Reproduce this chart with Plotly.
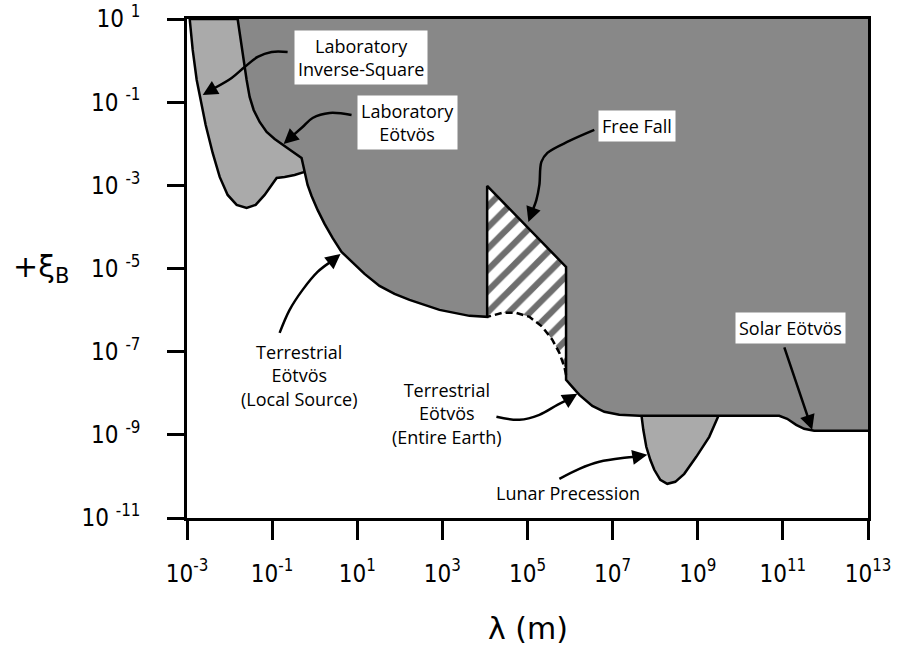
import numpy as np
import plotly.graph_objects as go

# Boundaries of the constrained regions, as log10(lambda / m) and log10(xi_B)

# Combined exclusion region (dark grey): lab/terrestrial Eotvos edge, free-fall notch,
# terrestrial (entire Earth), lunar and solar Eotvos floors
excl_loglam = [-1.810, -1.739, -1.669, -1.599, -1.528, -1.434, -1.293, -1.129, -0.941, -0.754,
               -0.542, -0.308, -0.261, -0.237, -0.167, -0.073, 0.068, 0.232, 0.420, 0.631,
               0.866, 1.171, 1.523, 1.876, 2.228, 2.580, 2.932, 3.284, 3.636, 4.052,
               4.052, 5.906, 5.906, 6.031, 6.218, 6.523, 6.805, 7.157, 7.627, 10.913,
               11.101, 11.312, 11.500, 11.735, 13.000]
excl_logxi = [1.000, 0.495, 0.014, -0.466, -0.875, -1.188, -1.476, -1.716, -1.885, -2.029,
              -2.173, -2.341, -2.534, -2.702, -2.990, -3.255, -3.591, -3.928, -4.264, -4.601,
              -4.841, -5.130, -5.418, -5.611, -5.755, -5.875, -5.995, -6.067, -6.139, -6.163,
              -3.014, -4.962, -7.678, -7.822, -8.038, -8.303, -8.447, -8.519, -8.543, -8.543,
              -8.615, -8.760, -8.856, -8.904, -8.904]

# Laboratory inverse-square region (light grey), outer edge from top to its minimum
isq_loglam = [-2.937, -2.866, -2.772, -2.678, -2.561, -2.397, -2.232, -2.045, -1.833, -1.599,
              -1.387, -1.176, -0.941, -0.894, -0.707, -0.472, -0.237]
isq_logxi = [1.000, 0.255, -0.466, -0.947, -1.548, -2.221, -2.798, -3.231, -3.471, -3.543,
             -3.471, -3.231, -2.870, -2.822, -2.798, -2.750, -2.678]

# Free-fall region (hatched): top edge and the dashed lower estimate
ff_top_loglam = [4.052, 5.906, 5.906]
ff_top_logxi = [-3.014, -4.962, -7.558]
ff_dash_loglam = [5.906, 5.866, 5.749, 5.585, 5.350, 5.045, 4.739, 4.411, 4.052]
ff_dash_logxi = [-7.558, -7.365, -7.029, -6.716, -6.404, -6.163, -6.067, -6.067, -6.163]

# Lunar precession region (light grey)
lun_loglam = [7.674, 7.721, 7.791, 7.885, 7.979, 8.120, 8.284, 8.472, 8.683, 8.965, 9.270, 9.505]
lun_logxi = [-8.500, -8.880, -9.288, -9.601, -9.841, -10.082, -10.178, -10.130, -9.938, -9.529,
             -9.048, -8.500]

x_tick_exp = [-3, -1, 1, 3, 5, 7, 9, 11, 13]
y_tick_exp = [1, -1, -3, -5, -7, -9, -11]

DARK = "#888888"
LIGHT = "#aaaaaa"
INK = "black"
LW = 2.5


def pw(v):
    return (10.0 ** np.asarray(v, dtype=float)).tolist()


fig = go.Figure()

# light grey inverse-square band, closed along the top of the axes
isq_x = isq_loglam + [isq_loglam[-1], isq_loglam[0]]
isq_y = isq_logxi + [1.0, 1.0]
fig.add_trace(go.Scatter(x=pw(isq_x), y=pw(isq_y), mode="lines", fill="toself",
                         fillcolor=LIGHT, line=dict(color=INK, width=LW), hoverinfo="skip"))

# lunar precession lobe
fig.add_trace(go.Scatter(x=pw(lun_loglam), y=pw(lun_logxi), mode="lines", fill="toself",
                         fillcolor=LIGHT, line=dict(color=INK, width=LW), hoverinfo="skip"))

# dark excluded region, closed via the upper-right corner
ex_x = excl_loglam + [13.0, excl_loglam[0]]
ex_y = excl_logxi + [1.0, 1.0]
fig.add_trace(go.Scatter(x=pw(ex_x), y=pw(ex_y), mode="lines", fill="toself",
                         fillcolor=DARK, line=dict(width=0), hoverinfo="skip"))

# hatched free-fall patch
ff_x = ff_top_loglam + ff_dash_loglam
ff_y = ff_top_logxi + ff_dash_logxi
fig.add_trace(go.Scatter(x=pw(ff_x), y=pw(ff_y), mode="lines", fill="toself",
                         fillcolor="white", line=dict(width=0),
                         fillpattern=dict(shape="/", fgcolor="#6e6e6e", bgcolor="white",
                                          size=15, solidity=0.42, fillmode="replace"),
                         hoverinfo="skip"))

# outline of the dark region
fig.add_trace(go.Scatter(x=pw(excl_loglam), y=pw(excl_logxi), mode="lines",
                         line=dict(color=INK, width=LW), hoverinfo="skip"))

# dashed lower edge of the free-fall patch
fig.add_trace(go.Scatter(x=pw(ff_dash_loglam), y=pw(ff_dash_logxi), mode="lines",
                         line=dict(color=INK, width=LW, dash="7px,4px"), hoverinfo="skip"))

# curved arrow shafts (log10 lambda, log10 xi)
shafts = [
    ([-0.636, -1.012, -1.340, -1.646, -1.951, -2.350], [0.207, 0.207, 0.087, -0.154, -0.418, -0.659]),
    ([0.866, 0.350, -0.049, -0.284, -0.495], [-1.308, -1.260, -1.380, -1.596, -1.788]),
    ([6.570, 5.984, 5.467, 5.326, 5.279, 5.209, 5.115],
     [-1.668, -1.933, -2.221, -2.438, -2.990, -3.351, -3.615]),
    ([-0.824, -0.589, -0.284, 0.068, 0.373], [-6.548, -5.995, -5.514, -5.082, -4.841]),
    ([4.270, 4.810, 5.279, 5.702, 5.937], [-8.567, -8.639, -8.519, -8.279, -8.159]),
    ([5.749, 6.218, 6.688, 7.275, 7.533], [-10.058, -9.817, -9.649, -9.553, -9.529]),
]
for sx, sy in shafts:
    fig.add_trace(go.Scatter(x=pw(sx), y=pw(sy), mode="lines", line=dict(color=INK, width=LW),
                             line_shape="spline", hoverinfo="skip"))

# arrow heads: tip position (log units) and pixel offset of the tail
heads = [
    (-2.631, -0.827, 12, -7),
    (-0.730, -2.005, 10, -9),
    (5.021, -3.880, 4, -11),
    (0.608, -4.649, -10, 8),
    (6.171, -8.014, -10, 6),
    (7.815, -9.481, -12, 2),
    (11.688, -8.880, -28, -83),
]
annotations = []
for hx, hy, ax, ay in heads:
    annotations.append(dict(x=hx, y=hy, xref="x", yref="y", ax=ax, ay=ay, text="",
                            font=dict(size=1), borderpad=0,
                            showarrow=True, arrowhead=2, arrowsize=1.2, arrowwidth=LW,
                            arrowcolor=INK, standoff=0))

label_font = dict(family="Open Sans, Lato, sans-serif", size=18, color=INK)
labels = [
    ("Laboratory<br>Inverse-Square", 1.077, 0.0625, True),
    ("Laboratory<br>Eötvös", 2.181, -1.5, True),
    ("Free Fall", 7.568, -1.572, True),
    ("Solar Eötvös", 11.171, -6.428, True),
    ("Terrestrial<br>Eötvös<br>(Local Source)", -0.354, -7.582, False),
    ("Terrestrial<br>Eötvös<br>(Entire Earth)", 3.12, -8.486, False),
    ("Lunar Precession", 5.96, -10.394, False),
]
for txt, lx, ly, boxed in labels:
    annotations.append(dict(x=lx, y=ly, xref="x", yref="y", text=txt, showarrow=False,
                            font=label_font, align="center",
                            bgcolor="white" if boxed else None, borderpad=3))

# axis titles
annotations.append(dict(x=-0.214, y=0.50, xref="paper", yref="paper", showarrow=False,
                        xanchor="center", yanchor="middle",
                        text="+ξ<sub>B</sub>",
                        font=dict(family="DejaVu Sans, sans-serif", size=30, color=INK)))
annotations.append(dict(x=0.5, y=-0.222, xref="paper", yref="paper", showarrow=False,
                        xanchor="center", yanchor="middle",
                        text="λ (m)",
                        font=dict(family="DejaVu Sans, sans-serif", size=30, color=INK)))

tick_font = dict(family="Liberation Sans Narrow, DejaVu Sans Condensed, Roboto, sans-serif",
                 size=24, color=INK)

fig.update_layout(
    width=910, height=656,
    margin=dict(l=187, r=42, t=19, b=138),
    paper_bgcolor="white", plot_bgcolor="white",
    showlegend=False,
    annotations=annotations,
    xaxis=dict(type="log", range=[-3, 13], showgrid=False, zeroline=False, automargin=False,
               tickvals=pw(x_tick_exp), ticktext=[f"10<sup>{e}</sup>" for e in x_tick_exp],
               ticks="outside", ticklen=19, tickwidth=LW, tickcolor=INK,
               showline=True, linewidth=LW, linecolor=INK, mirror=True,
               tickfont=tick_font, ticklabelstandoff=13),
    yaxis=dict(type="log", range=[-11, 1], showgrid=False, zeroline=False, automargin=False,
               tickvals=pw(y_tick_exp), ticktext=[f"10 <sup>{e}</sup>" for e in y_tick_exp],
               ticks="outside", ticklen=17, tickwidth=LW, tickcolor=INK,
               showline=True, linewidth=LW, linecolor=INK, mirror=True,
               tickfont=tick_font, ticklabelstandoff=22),
)

fig.write_html("out.html")
